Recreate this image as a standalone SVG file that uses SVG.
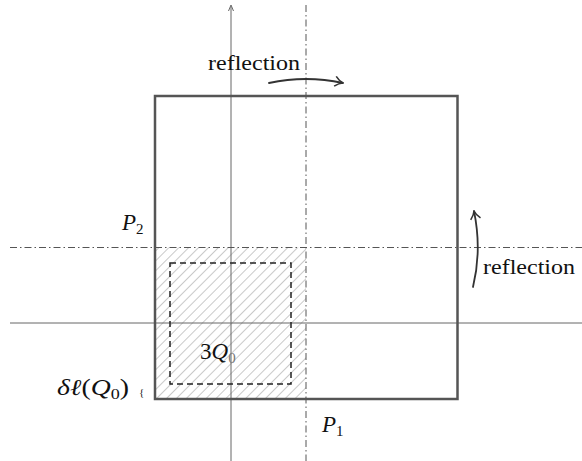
<svg xmlns="http://www.w3.org/2000/svg" width="582" height="461" viewBox="0 0 582 461">
<style>
.axis{stroke:#666;stroke-width:1;fill:none}
.dd{stroke:#555;stroke-width:1;fill:none;stroke-dasharray:7 3 1.5 3}
.sq{stroke:#555;stroke-width:2.5;fill:none}
.dash{stroke:#222;stroke-width:1.5;fill:none;stroke-dasharray:6 4}
.arr{stroke:#333;stroke-width:1.8;fill:none;stroke-linecap:round}
text{font-family:'Liberation Serif','Times New Roman',serif;fill:#111}
.t{font-size:21px}
.m{font-size:23px;font-style:italic}
.s{font-size:15px;font-style:normal}
</style>
<defs>
<pattern id="hatch" patternUnits="userSpaceOnUse" width="7" height="7" patternTransform="rotate(45)">
<line x1="0" y1="0" x2="0" y2="7" stroke="#888" stroke-width="0.9"/>
</pattern>
<marker id="hook" viewBox="0 0 12 12" refX="10" refY="6" markerWidth="12" markerHeight="12" markerUnits="userSpaceOnUse" orient="auto">
<path d="M2,1 Q6,5 10,6 Q6,7 2,11" fill="none" stroke="#333" stroke-width="1.6"/>
</marker>
</defs>
<g id="hatched-region">
<rect x="155" y="247.5" width="151" height="151.5" fill="url(#hatch)"/>
</g>
<g id="connectors">
<line class="axis" x1="231" y1="461" x2="231" y2="7"/>
<path d="M228.5,11 L231,5 L233.5,11" fill="none" stroke="#666" stroke-width="1"/>
<line class="axis" x1="10" y1="323" x2="582" y2="323"/>
<line class="dd" x1="306" y1="5" x2="306" y2="461"/>
<line class="dd" x1="10" y1="247.5" x2="582" y2="247.5"/>
<path class="arr" d="M269,83 Q306,75 343,83" marker-end="url(#hook)"/>
<path class="arr" d="M473,287 Q482,250 474,211" marker-end="url(#hook)"/>
</g>
<g id="square">
<rect class="sq" x="155" y="96" width="302.5" height="303"/>
</g>
<g id="cube-3Q0">
<rect class="dash" x="170" y="263" width="121" height="121"/>
<text x="200" y="359" font-family="Liberation Serif, serif" font-size="23">3<tspan font-style="italic">Q</tspan><tspan font-size="15" dy="4" fill="#777">0</tspan></text>
</g>
<g id="labels">
<text class="t" x="208" y="70" font-family="Liberation Serif, serif" textLength="92" lengthAdjust="spacingAndGlyphs">reflection</text>
<text class="t" x="483" y="274" font-family="Liberation Serif, serif" textLength="92" lengthAdjust="spacingAndGlyphs">reflection</text>
<text class="m" x="122" y="230" font-family="Liberation Serif, serif">P<tspan class="s" dy="4">2</tspan></text>
<text class="m" x="322" y="432" font-family="Liberation Serif, serif">P<tspan class="s" dy="4">1</tspan></text>
<text class="m" x="57" y="395" font-family="Liberation Serif, serif" textLength="72" lengthAdjust="spacingAndGlyphs">δℓ<tspan font-style="normal">(</tspan>Q<tspan class="s" dy="4">0</tspan><tspan font-style="normal" dy="-4">)</tspan></text>
<text x="139" y="396" font-family="Liberation Serif, serif" font-size="11">{</text>
</g>
</svg>
